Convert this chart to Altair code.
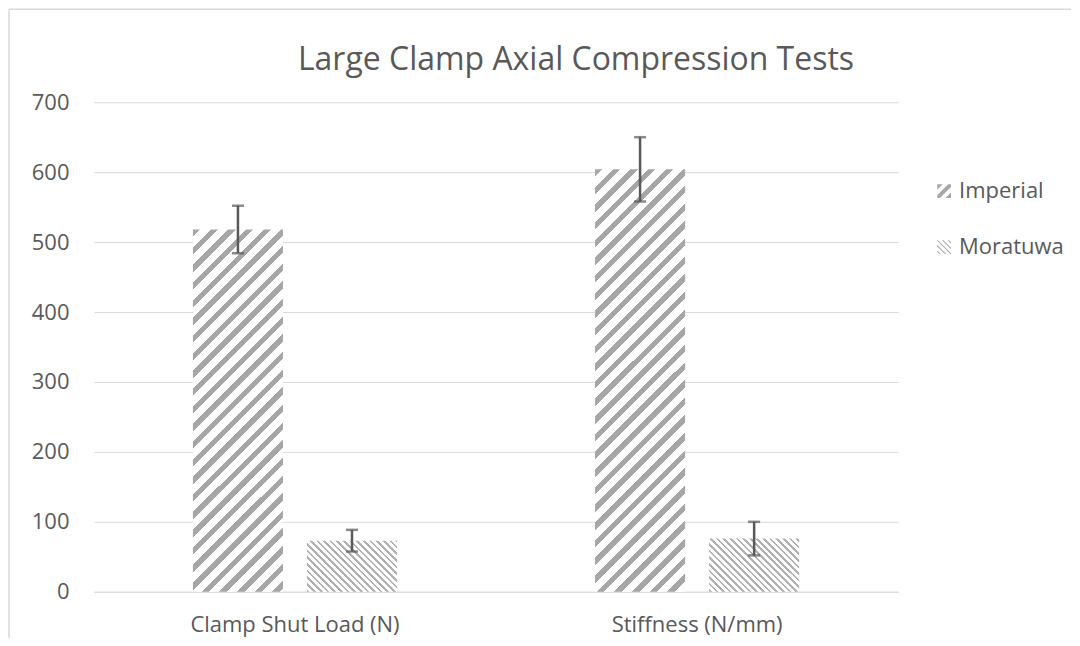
import math
import altair as alt
import pandas as pd

categories = ["Clamp Shut Load (N)", "Stiffness (N/mm)"]
series = ["Imperial", "Moratuwa"]
imperial_values = [518, 604]
imperial_errors = [34, 46]
moratuwa_values = [73, 76]
moratuwa_errors = [15.5, 24]

rows = []
for s, vals, errs in [("Imperial", imperial_values, imperial_errors),
                      ("Moratuwa", moratuwa_values, moratuwa_errors)]:
    for c, v, e in zip(categories, vals, errs):
        rows.append({"Category": c, "Series": s, "Value": v, "Low": v - e, "High": v + e})
df = pd.DataFrame(rows)

PLOT_W, PLOT_H = 805, 490
Y_MAX = 700
BAR_W = 90.1
FONT = "Open Sans"
TXT = "#595959"
GRID = "#d9d9d9"

# hatch styles per series: (perpendicular period px, ink fraction, colour, slant)
hatch = {
    "Imperial": (12.5, 0.42, "#a6a6a6", "/"),
    "Moratuwa": (4.7, 0.40, "#b0b0b0", "\\"),
}


def stripe_gradient(gid, w, h, period, frac, color, slant):
    k = (w + h) / (w * w + h * h)
    L = (w + h) / math.sqrt(2)
    if slant == "/":
        x1, y1, x2, y2 = 0, 0, k * w, k * h
    else:
        x1, y1, x2, y2 = 0, 1, k * w, 1 - k * h
    stops = []
    d = 0.0
    while d < L:
        a = d / L
        b = min((d + frac * period) / L, 1)
        c = min((d + period) / L, 1)
        stops += [(a, color), (b, color), (b, "#ffffff"), (c, "#ffffff")]
        d += period
    return alt.LinearGradient(
        gradient="linear", id=gid, x1=x1, y1=y1, x2=x2, y2=y2,
        stops=[alt.GradientStop(offset=o, color=col) for o, col in stops],
    )


x_enc = alt.X(
    "Category:N", sort=categories,
    scale=alt.Scale(paddingInner=0, paddingOuter=0),
    axis=alt.Axis(title=None, labelAngle=0, ticks=False, domainColor=GRID,
                  domainWidth=1, labelPadding=23, labelFontSize=22, labelLimit=0,
                  labelColor=TXT, labelFont=FONT, grid=False),
)
xoff = alt.XOffset("Series:N", sort=series,
                   scale=alt.Scale(domain=series, paddingInner=0.2105, paddingOuter=0.868))
y_enc = alt.Y(
    "Value:Q", title=None,
    scale=alt.Scale(domain=[0, Y_MAX], nice=False),
    axis=alt.Axis(values=list(range(0, 701, 100)), domain=False, ticks=False,
                  gridColor=GRID, gridWidth=1, labelPadding=25, labelFontSize=22,
                  labelColor=TXT, labelFont=FONT, title=None),
)

base = alt.Chart(df)
layers = []
gi = 0
for s in series:
    per, frac, col, slant = hatch[s]
    vals = imperial_values if s == "Imperial" else moratuwa_values
    for c, v in zip(categories, vals):
        h = v * PLOT_H / Y_MAX
        grad = stripe_gradient(f"hatch{gi}", BAR_W, h, per, frac, col, slant)
        gi += 1
        layers.append(
            base.transform_filter((alt.datum.Category == c) & (alt.datum.Series == s))
            .mark_bar(color=grad, strokeWidth=0)
            .encode(x=x_enc, xOffset=xoff, y=y_enc)
        )

err_rule = base.mark_rule(color=TXT, strokeWidth=2.5).encode(
    x=x_enc, xOffset=xoff, y=alt.Y("Low:Q", title=None), y2="High:Q")
cap_lo = base.mark_tick(color=TXT, thickness=2.5, size=12).encode(
    x=x_enc, xOffset=xoff, y=alt.Y("Low:Q", title=None))
cap_hi = base.mark_tick(color=TXT, thickness=2.5, size=12).encode(
    x=x_enc, xOffset=xoff, y=alt.Y("High:Q", title=None))

imp_path = ("M-1,0.6L0.6,-1L1,-1L1,-0.6L-0.6,1L-1,1Z"
            "M-1,-1L-0.2,-1L-1,-0.2Z"
            "M1,1L0.2,1L1,0.2Z")
mor_path = ("M-1,-1L-0.9,-1L1,0.9L1,1L0.9,1L-1,-0.9Z"
            "M-0.3,-1L-0.1,-1L1,0.1L1,0.3Z"
            "M-1,-0.3L0.3,1L0.1,1L-1,-0.1Z"
            "M0.5,-1L0.7,-1L1,-0.7L1,-0.5Z"
            "M-1,0.5L-0.5,1L-0.7,1L-1,0.7Z")

legend_layer = base.mark_point(filled=True, opacity=0, color="#a6a6a6").encode(
    x=x_enc, xOffset=xoff, y=alt.Y("Value:Q", title=None),
    shape=alt.Shape("Series:N", sort=series,
                    scale=alt.Scale(domain=series, range=[imp_path, mor_path]),
                    legend=alt.Legend(title=None, orient="none", legendX=840, legendY=78,
                                      labelFont=FONT, labelFontSize=22, labelColor=TXT,
                                      symbolSize=190, symbolOpacity=1, symbolStrokeWidth=0,
                                      symbolFillColor="#a6a6a6",
                                      rowPadding=34, labelOffset=4)),
)

frame_df = pd.DataFrame({"f": [0]})
frame_left = alt.Chart(frame_df).mark_rule(color=GRID, strokeWidth=1.5).encode(
    x=alt.value(-85), y=alt.value(-93), y2=alt.value(536))
frame_top = alt.Chart(frame_df).mark_rule(color=GRID, strokeWidth=1.5).encode(
    x=alt.value(-85), x2=alt.value(978), y=alt.value(-93))

chart = alt.layer(frame_left, frame_top, *layers, err_rule, cap_lo, cap_hi, legend_layer).properties(
    width=PLOT_W, height=PLOT_H, padding=0,
    title=alt.Title("Large Clamp Axial Compression Tests", font=FONT, fontSize=32,
                    fontWeight="normal", color=TXT, baseline="middle", offset=-84,
                    dx=80, anchor="middle"),
).configure(background="white").configure_view(strokeWidth=0, stroke="transparent")

chart.save("out.html", embed_options={"renderer": "svg", "actions": False})
